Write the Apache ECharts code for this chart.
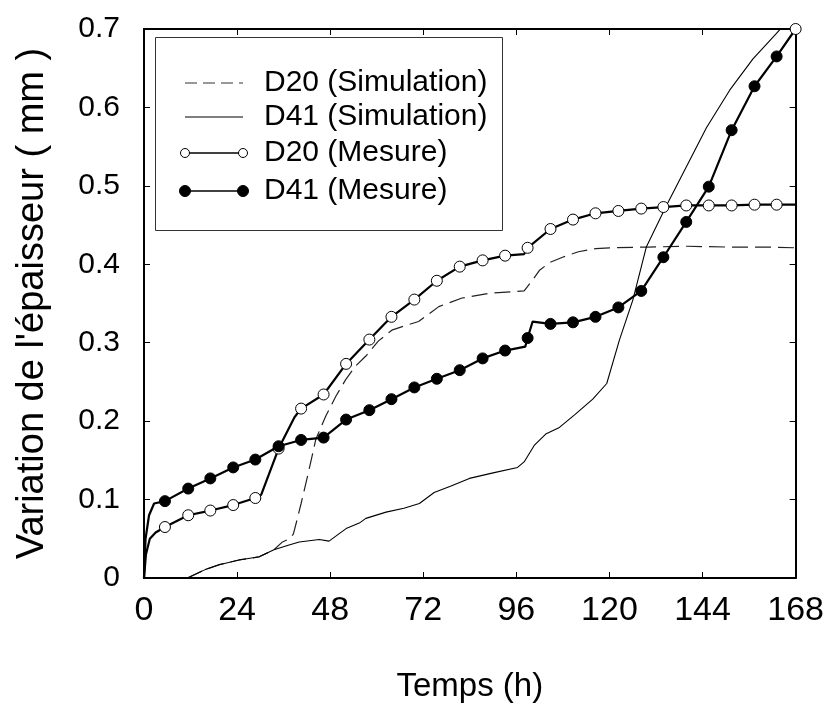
<!DOCTYPE html>
<html>
<head>
<meta charset="utf-8">
<script src="https://cdn.jsdelivr.net/npm/echarts@6/dist/echarts.min.js"></script>
<style>
  html, body { margin: 0; padding: 0; background: #fff; }
  #chart { width: 827px; height: 708px; }
</style>
</head>
<body>
<div id="chart"></div>
<script>
// x ticks (h) and y ticks (mm)
var xTicks = [0, 24, 48, 72, 96, 120, 144, 168];
var yTicks = [0, 0.1, 0.2, 0.3, 0.4, 0.5, 0.6, 0.7];

// D20 mesure : points with a marker
var d20MesT = [5.4, 11.4, 17.1, 23.0, 28.7, 34.7, 40.5, 46.3, 52.1, 58.1, 63.8, 69.7, 75.5, 81.4, 87.3, 93.1, 98.9, 104.8, 110.6, 116.4, 122.3, 128.2, 133.9, 139.8, 145.6, 151.5, 157.4, 163.1];
var d20MesV = [0.065, 0.080, 0.086, 0.093, 0.102, 0.165, 0.216, 0.234, 0.273, 0.304, 0.333, 0.355, 0.379, 0.397, 0.405, 0.411, 0.421, 0.445, 0.457, 0.465, 0.468, 0.471, 0.473, 0.475, 0.475, 0.475, 0.476, 0.476];
// D20 mesure : line only points (no marker)
var d20MesExtraT = [0, 0.5, 1.5, 3.0, 30.2, 38.8, 98.0, 168];
var d20MesExtraV = [0, 0.030, 0.050, 0.058, 0.106, 0.205, 0.413, 0.476];

// D41 mesure
var d41MesT = [5.4, 11.4, 17.1, 23.0, 28.7, 34.7, 40.5, 46.3, 52.1, 58.1, 63.8, 69.7, 75.5, 81.4, 87.3, 93.1, 98.9, 104.8, 110.6, 116.4, 122.3, 128.2, 133.9, 139.8, 145.6, 151.5, 157.4, 163.1];
var d41MesV = [0.098, 0.114, 0.127, 0.141, 0.151, 0.168, 0.176, 0.179, 0.202, 0.214, 0.228, 0.243, 0.254, 0.265, 0.280, 0.290, 0.306, 0.324, 0.326, 0.333, 0.345, 0.366, 0.409, 0.454, 0.499, 0.571, 0.627, 0.665];
var d41MesExtraT = [0, 0.4, 1.3, 2.6, 98.3, 100.2];
var d41MesExtraV = [0, 0.050, 0.080, 0.095, 0.295, 0.327];
// last point drawn with an open circle
var d41MesEndT = [168];
var d41MesEndV = [0.7];

// D20 simulation (dashed)
var d20SimT = [11.2, 15.9, 19.4, 24.5, 29.7, 33.5, 35.7, 37.5, 38.5, 39.5, 40.5, 41.7, 43.0, 44.3, 46.9, 49.5, 52.0, 54.5, 57.2, 60.4, 63.9, 67.5, 70.8, 76.0, 82.0, 89.0, 98.0, 100.2, 101.9, 104.5, 107.9, 112.0, 116.5, 120.0, 130.0, 140.0, 150.0, 160.0, 168.0];
var d20SimV = [0, 0.011, 0.017, 0.023, 0.027, 0.036, 0.046, 0.050, 0.056, 0.075, 0.095, 0.120, 0.148, 0.177, 0.207, 0.232, 0.253, 0.270, 0.283, 0.302, 0.316, 0.322, 0.327, 0.346, 0.357, 0.363, 0.366, 0.380, 0.392, 0.402, 0.409, 0.416, 0.420, 0.421, 0.422, 0.423, 0.422, 0.422, 0.421];

// D41 simulation (thin solid)
var d41SimT = [11.2, 15.9, 19.4, 24.5, 29.7, 33.5, 37.4, 40.0, 45.2, 47.7, 52.1, 55.5, 57.2, 62.4, 67.0, 71.0, 74.8, 79.0, 83.9, 90.0, 96.3, 98.0, 100.6, 103.7, 107.1, 111.0, 115.7, 119.3, 122.6, 126.0, 129.5, 134.7, 139.8, 145.0, 151.0, 157.0, 163.0, 168.0];
var d41SimV = [0, 0.011, 0.017, 0.023, 0.027, 0.036, 0.042, 0.046, 0.049, 0.047, 0.063, 0.070, 0.076, 0.084, 0.089, 0.095, 0.109, 0.117, 0.127, 0.134, 0.141, 0.148, 0.169, 0.184, 0.192, 0.208, 0.228, 0.248, 0.304, 0.354, 0.422, 0.475, 0.524, 0.574, 0.622, 0.662, 0.694, 0.722];

function pairs(ts, vs) {
  return ts.map(function (t, i) { return [t, vs[i]]; });
}

// merge marker points and plain line points into one sorted line
function mesData(markT, markV, extraT, extraV) {
  var items = [];
  markT.forEach(function (t, i) { items.push({ value: [t, markV[i]] }); });
  extraT.forEach(function (t, i) { items.push({ value: [t, extraV[i]], symbol: 'none' }); });
  items.sort(function (a, b) { return a.value[0] - b.value[0]; });
  return items;
}

var chart = echarts.init(document.getElementById('chart'), null, { renderer: 'canvas' });

var axisFont = 'Liberation Sans';

var legendRows = [
  { y: 83, text: 'D20 (Simulation)', kind: 'dash' },
  { y: 117, text: 'D41 (Simulation)', kind: 'thin' },
  { y: 153, text: 'D20 (Mesure)', kind: 'open' },
  { y: 191, text: 'D41 (Mesure)', kind: 'filled' }
];

var legendGraphics = [{
  type: 'rect',
  shape: { x: 155.5, y: 37.5, width: 347, height: 193 },
  style: { fill: '#fff', stroke: '#333', lineWidth: 1 },
  z: 100
}];
legendRows.forEach(function (r) {
  var lineStyle = { stroke: '#000', lineWidth: 1.2 };
  if (r.kind === 'dash') lineStyle = { stroke: '#333', lineWidth: 1.2, lineDash: [12, 6] };
  if (r.kind === 'open' || r.kind === 'filled') lineStyle = { stroke: '#000', lineWidth: 1.6 };
  legendGraphics.push({
    type: 'line', z: 101,
    shape: { x1: 185, y1: r.y, x2: 243, y2: r.y },
    style: lineStyle
  });
  if (r.kind === 'open' || r.kind === 'filled') {
    [185, 243].forEach(function (cx) {
      legendGraphics.push({
        type: 'circle', z: 102,
        shape: { cx: cx, cy: r.y, r: r.kind === 'open' ? 4.5 : 5.5 },
        style: { fill: r.kind === 'open' ? '#fff' : '#000', stroke: '#000', lineWidth: 1 }
      });
    });
  }
  legendGraphics.push({
    type: 'text', z: 101,
    x: 264, y: r.y,
    style: { text: r.text, font: '30px "Liberation Sans"', fill: '#000', verticalAlign: 'middle' }
  });
});

var option = {
  animation: false,
  backgroundColor: '#fff',
  grid: { left: 144, right: 31, top: 29, bottom: 127 },
  xAxis: [{
    type: 'value', min: 0, max: 168, interval: 24,
    name: 'Temps (h)', nameLocation: 'middle', nameGap: 92,
    nameTextStyle: { fontFamily: axisFont, fontSize: 33, color: '#000' },
    axisLine: { show: true, onZero: false, lineStyle: { color: '#000', width: 2 } },
    axisTick: { show: true, inside: true, length: 6, lineStyle: { color: '#000', width: 1 } },
    axisLabel: { fontFamily: axisFont, fontSize: 34, color: '#000', margin: 16,
      customValues: xTicks },
    splitLine: { show: false }
  }, {
    type: 'value', min: 0, max: 168, interval: 24, position: 'top',
    axisLine: { show: true, onZero: false, lineStyle: { color: '#000', width: 2 } },
    axisTick: { show: true, inside: true, length: 6, lineStyle: { color: '#000', width: 1 } },
    axisLabel: { show: false },
    splitLine: { show: false }
  }],
  yAxis: [{
    type: 'value', min: 0, max: 0.7, interval: 0.1,
    name: "Variation de l'épaisseur ( mm )", nameLocation: 'middle', nameGap: 92,
    nameTextStyle: { fontFamily: axisFont, fontSize: 38, color: '#000' },
    axisLine: { show: true, onZero: false, lineStyle: { color: '#000', width: 2 } },
    axisTick: { show: true, inside: true, length: 6, lineStyle: { color: '#000', width: 1 } },
    axisLabel: { fontFamily: axisFont, fontSize: 30, color: '#000', margin: 24,
      customValues: yTicks,
      formatter: function (v) { return String(+v.toFixed(1)); } },
    splitLine: { show: false }
  }, {
    type: 'value', min: 0, max: 0.7, interval: 0.1, position: 'right',
    axisLine: { show: true, onZero: false, lineStyle: { color: '#000', width: 2 } },
    axisTick: { show: true, inside: true, length: 6, lineStyle: { color: '#000', width: 1 } },
    axisLabel: { show: false },
    splitLine: { show: false }
  }],
  graphic: legendGraphics,
  series: [{
    name: 'D20 (Simulation)', type: 'line', showSymbol: false,
    data: pairs(d20SimT, d20SimV),
    lineStyle: { color: '#222', width: 1.2, type: [16, 7] },
    z: 2
  }, {
    name: 'D41 (Simulation)', type: 'line', showSymbol: false,
    data: pairs(d41SimT, d41SimV),
    lineStyle: { color: '#000', width: 1.1 },
    z: 2
  }, {
    name: 'D20 (Mesure)', type: 'line',
    data: mesData(d20MesT, d20MesV, d20MesExtraT, d20MesExtraV),
    symbol: 'circle', symbolSize: 11,
    itemStyle: { color: '#fff', borderColor: '#000', borderWidth: 1 },
    lineStyle: { color: '#000', width: 2.2 },
    z: 3
  }, {
    name: 'D41 (Mesure)', type: 'line',
    data: mesData(d41MesT, d41MesV, d41MesExtraT, d41MesExtraV).concat(
      pairs(d41MesEndT, d41MesEndV).map(function (p) {
        return { value: p, itemStyle: { color: '#fff', borderColor: '#000', borderWidth: 1 } };
      })),
    symbol: 'circle', symbolSize: 11,
    itemStyle: { color: '#000', borderColor: '#000', borderWidth: 1 },
    lineStyle: { color: '#000', width: 2.2 },
    clip: false,
    z: 4
  }]
};

chart.setOption(option);
</script>
</body>
</html>
